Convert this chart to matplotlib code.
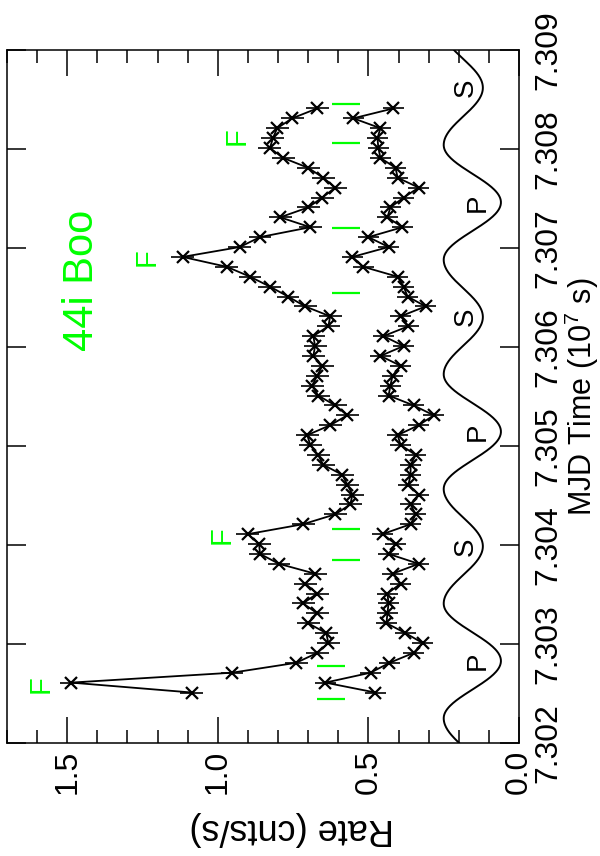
import numpy as np
import matplotlib.pyplot as plt
from matplotlib.ticker import MultipleLocator, FormatStrFormatter

plt.rcParams['font.family'] = ['Liberation Sans Narrow', 'Liberation Sans']
plt.rcParams['mathtext.default'] = 'regular'

# bin centres, MJD time in units of 1e7 s
time = [7.30251, 7.30261, 7.30271, 7.30281, 7.30291, 7.30301, 7.30311, 7.30321, 7.30331, 7.30341,
        7.30351, 7.30361, 7.30371, 7.30381, 7.30391, 7.30401, 7.30411, 7.30421, 7.30431, 7.30441,
        7.30451, 7.30461, 7.30471, 7.30481, 7.30491, 7.30501, 7.30511, 7.30521, 7.30531, 7.30541,
        7.30551, 7.30561, 7.30571, 7.30581, 7.30591, 7.30601, 7.30611, 7.30621, 7.30631, 7.30641,
        7.30651, 7.30661, 7.30671, 7.30681, 7.30691, 7.30701, 7.30711, 7.30721, 7.30731, 7.30741,
        7.30751, 7.30761, 7.30771, 7.30781, 7.30791, 7.30801, 7.30811, 7.30821, 7.30831, 7.30841]

rate_total = [1.087, 1.487, 0.953, 0.740, 0.670, 0.633, 0.640, 0.700, 0.670, 0.717,
              0.670, 0.710, 0.677, 0.797, 0.860, 0.863, 0.900, 0.717, 0.610, 0.560,
              0.553, 0.570, 0.587, 0.650, 0.667, 0.693, 0.703, 0.627, 0.570, 0.610,
              0.667, 0.687, 0.670, 0.653, 0.683, 0.677, 0.683, 0.633, 0.627, 0.710,
              0.767, 0.827, 0.893, 0.970, 1.117, 0.927, 0.860, 0.693, 0.793, 0.700,
              0.653, 0.610, 0.650, 0.700, 0.783, 0.827, 0.817, 0.803, 0.753, 0.670]

rate_soft = [0.477, 0.643, 0.493, 0.430, 0.350, 0.320, 0.377, 0.440, 0.437, 0.433,
             0.437, 0.393, 0.420, 0.333, 0.433, 0.410, 0.453, 0.360, 0.343, 0.360,
             0.333, 0.367, 0.360, 0.360, 0.343, 0.393, 0.403, 0.333, 0.283, 0.350,
             0.433, 0.427, 0.420, 0.393, 0.460, 0.383, 0.450, 0.367, 0.393, 0.310,
             0.370, 0.383, 0.403, 0.517, 0.553, 0.433, 0.500, 0.387, 0.437, 0.427,
             0.383, 0.333, 0.403, 0.410, 0.460, 0.467, 0.470, 0.460, 0.550, 0.417]

err_total = 0.038
err_soft = 0.035

# flare interval markers
flare_edges = [7.302445, 7.302779, 7.303850, 7.304164, 7.306550, 7.307207, 7.308057, 7.308451]
flare_lo = [0.577, 0.577, 0.527, 0.527, 0.527, 0.527, 0.527, 0.527]
flare_hi = [0.670, 0.670, 0.620, 0.620, 0.620, 0.620, 0.620, 0.620]

flare_label_t = [7.302597, 7.304103, 7.306904, 7.308127]
flare_label_r = [1.587, 0.987, 1.237, 0.937]

# binary ephemeris (primary minimum, period) and schematic light curve levels
t_prim = 7.302829
period = 0.002316
lev_max, lev_prim, lev_sec = 0.25, 0.06, 0.12

fig = plt.figure(figsize=(6, 8.56), dpi=100)
ax = fig.add_axes([7 / 600, 113 / 856, 512 / 600, 693 / 856])

ax.errorbar(rate_total, time, xerr=err_total, fmt='-x', color='black', lw=1.3,
            ms=8.5, mew=1.6, elinewidth=1.2, capsize=0)
ax.errorbar(rate_soft, time, xerr=err_soft, fmt='-x', color='black', lw=1.3,
            ms=8.5, mew=1.6, elinewidth=1.2, capsize=0)

for t, lo, hi in zip(flare_edges, flare_lo, flare_hi):
    ax.plot([lo, hi], [t, t], color='#00ff00', lw=1.6, solid_capstyle='butt')
for t, r in zip(flare_label_t, flare_label_r):
    ax.text(r, t, 'F', color='#00ff00', fontsize=21, rotation=90, ha='center', va='center')

# orbital phase curve
tt = np.linspace(7.302, 7.309, 800)
phase = 2 * np.pi * (tt - t_prim) / period
depth = np.where(np.cos(phase) > 0, lev_max - lev_prim, lev_max - lev_sec)
orbit = lev_max - depth * np.cos(phase) ** 2
ax.plot(orbit, tt, color='black', lw=1.4)

for k in range(3):
    ax.text(0.137, t_prim + k * period, 'P', fontsize=20, rotation=90, ha='center', va='center')
    ax.text(0.177, t_prim + (k + 0.5) * period, 'S', fontsize=20, rotation=90, ha='center', va='center')

ax.text(1.45, 7.30667, '44i Boo', color='#00ff00', fontsize=30, rotation=90, ha='center', va='center')

ax.set_xlim(1.7, 0.0)
ax.set_ylim(7.302, 7.309)

ax.xaxis.set_major_locator(MultipleLocator(0.5))
ax.xaxis.set_minor_locator(MultipleLocator(0.1))
ax.xaxis.set_major_formatter(FormatStrFormatter('%.1f'))
ax.yaxis.set_major_locator(MultipleLocator(0.001))
ax.yaxis.set_major_formatter(FormatStrFormatter('%.3f'))

ax.tick_params(axis='x', which='both', direction='in', top=True, bottom=True,
               labelsize=23, labelrotation=90, pad=5, width=1.1)
ax.tick_params(axis='x', which='major', length=19)
ax.tick_params(axis='x', which='minor', length=9.5)
ax.tick_params(axis='y', which='both', direction='in', left=True, right=True,
               labelleft=False, labelright=True, labelsize=23, labelrotation=90,
               pad=10, length=14, width=1.1)
for lab in ax.get_yticklabels():
    lab.set_va('center')

for sp in ax.spines.values():
    sp.set_linewidth(1.1)

ax.set_xlabel('Rate (cnts/s)', fontsize=26, rotation=180, family=['Liberation Sans'])
ax.xaxis.set_label_coords(0.557, -0.098)
ax.xaxis.label.set_va('top')

ax.yaxis.set_label_position('right')
ax.set_ylabel('MJD Time (10$^7$ s)', fontsize=22, rotation=90)
ax.yaxis.set_label_coords(1.122, 0.5)
ax.yaxis.label.set_ha('center')
ax.yaxis.label.set_va('center')

fig.savefig('out.png', dpi=100)
